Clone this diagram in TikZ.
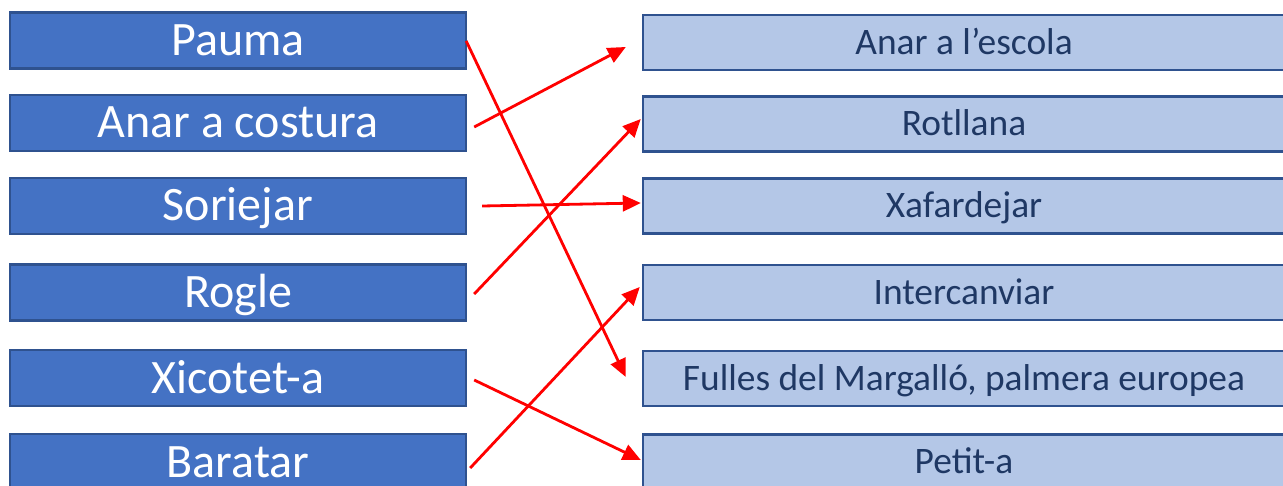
\documentclass[tikz,border=0pt]{standalone}
\usepackage{fontspec}
\setmainfont{Carlito}
\usetikzlibrary{arrows.meta,calc}
\definecolor{lblue}{HTML}{4472C4}
\definecolor{bdr}{HTML}{2F528F}
\definecolor{pblue}{HTML}{B4C7E7}
\definecolor{navy}{HTML}{1F3864}
\tikzset{
  leftbox/.style={draw=bdr, line width=2.4pt, fill=lblue, text=white, minimum width=456pt, minimum height=56pt, inner sep=0pt, font=\fontsize{48}{52}\selectfont, text height=30pt, text depth=0pt},
  rightbox/.style={draw=bdr, line width=2.4pt, fill=pblue, text=navy, minimum width=642pt, minimum height=55pt, inner sep=0pt, font=\fontsize{37.4}{41}\selectfont, text height=23.5pt, text depth=0pt},
  conn/.style={draw=red, line width=2.8pt, -{Triangle[length=18pt,width=16pt]}}
}
\begin{document}
\begin{tikzpicture}[x=1pt,y=-1pt]
\useasboundingbox (0,0) rectangle (1283,486);
\clip (0,0) rectangle (1283,486);
% left column
\node[leftbox] (L1) at (238,40.5) {Pauma};
\node[leftbox] (L2) at (238,123) {Anar a costura};
\node[leftbox] (L3) at (238,206) {Soriejar};
\node[leftbox] (L4) at (238,292.5) {Rogle};
\node[leftbox] (L5) at (238,378) {Xicotet-a};
\node[leftbox] (L6) at (238,462) {Baratar};
% right column
\node[rightbox] (R1) at (964,42.5) {Anar a l’escola};
\node[rightbox] (R2) at (964,124) {Rotllana};
\node[rightbox] (R3) at (964,206) {Xafardejar};
\node[rightbox] (R4) at (964,292.5) {Intercanviar};
\node[rightbox] (R5) at (964,378.5) {Fulles del Margalló, palmera europea};
\node[rightbox] (R6) at (964,462) {Petit-a};
% connectors
\draw[conn] ([shift={(-1,0.5)}]L1.east) -- ([shift={(-16,-1.5)}]R5.west);
\draw[conn] ([shift={(7,4)}]L2.east) -- ([shift={(-16,4.5)}]R1.west);
\draw[conn] ([shift={(15,0)}]L3.east) -- ([shift={(-1,-3)}]R3.west);
\draw[conn] ([shift={(7,1.5)}]L4.east) -- ([shift={(-1,-5)}]R2.west);
\draw[conn] ([shift={(7,2)}]L5.east) -- ([shift={(-1,-2)}]R6.west);
\draw[conn] ([shift={(3,6)}]L6.east) -- ([shift={(-2,-5.5)}]R4.west);
\end{tikzpicture}
\end{document}
